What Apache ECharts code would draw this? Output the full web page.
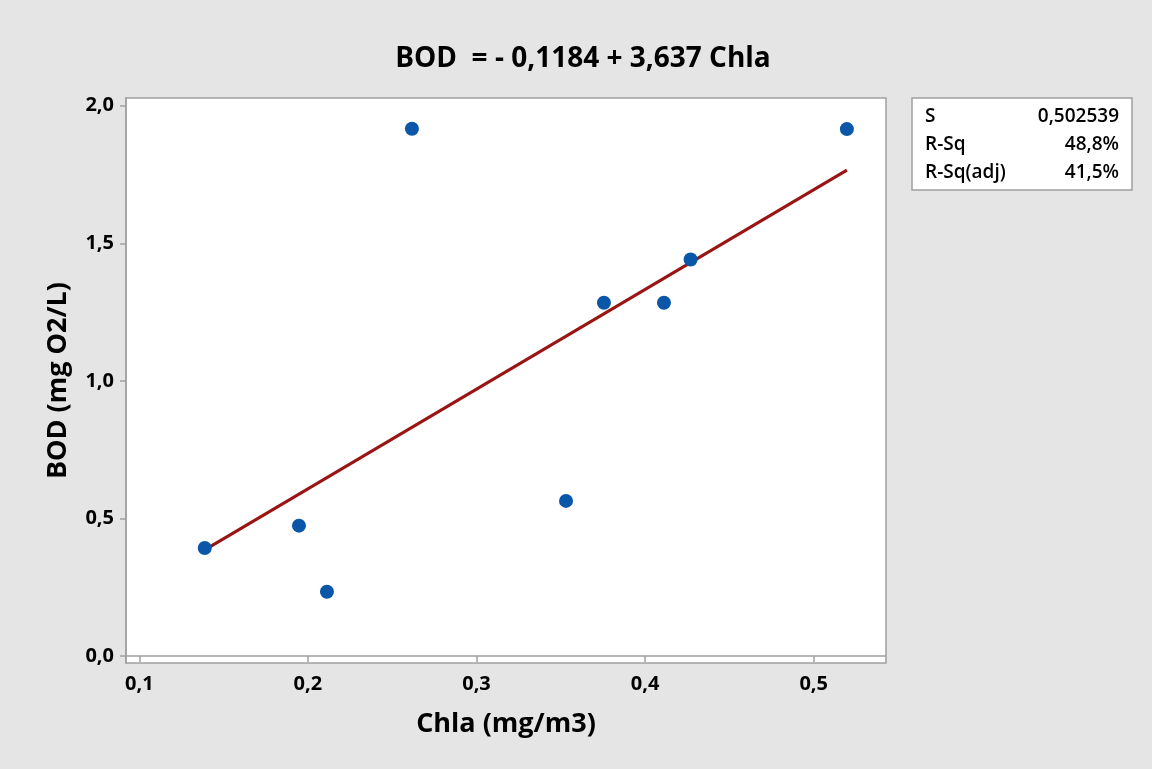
<!DOCTYPE html>
<html>
<head>
<meta charset="utf-8">
<script src="https://cdn.jsdelivr.net/npm/echarts@6/dist/echarts.min.js"></script>
<style>
html,body{margin:0;padding:0;background:#e5e5e5;}
#c{width:1152px;height:769px;}
</style>
</head>
<body>
<div id="c"></div>
<script>
// Data
const chla = [0.1388, 0.1947, 0.2113, 0.2617, 0.3531, 0.3756, 0.4112, 0.4270, 0.5197];
const bod  = [0.393, 0.474, 0.234, 1.916, 0.564, 1.284, 1.284, 1.441, 1.915];
const fitX = [0.1388, 0.5197];
const fitY = [0.386, 1.766];
const xTicks = [0.1, 0.2, 0.3, 0.4, 0.5];
const yTicks = [0.0, 0.5, 1.0, 1.5, 2.0];
const statLabels = ['S', 'R-Sq', 'R-Sq(adj)'];
const statValues = ['0,502539', '48,8%', '41,5%'];
const titleText = 'BOD  = - 0,1184 + 3,637 Chla';

const fmt = v => v.toFixed(1).replace('.', ',');
const FONT = '"Open Sans", "Noto Sans", sans-serif';

const chart = echarts.init(document.getElementById('c'), null, {renderer: 'canvas'});

const graphics = [
  {type: 'rect', shape: {x: 912, y: 98, width: 220, height: 92},
   style: {fill: '#ffffff', stroke: '#a0a0a0', lineWidth: 1.5}}
];
statLabels.forEach((s, i) => {
  graphics.push({type: 'text', x: 925, y: 117 + i * 28,
    style: {text: s, fontFamily: FONT, fontWeight: 600, fontSize: 19, fill: '#000', verticalAlign: 'middle', align: 'left'}});
  graphics.push({type: 'text', x: 1119, y: 117 + i * 28,
    style: {text: statValues[i], fontFamily: FONT, fontWeight: 600, fontSize: 19, fill: '#000', verticalAlign: 'middle', align: 'right'}});
});

chart.setOption({
  backgroundColor: '#e5e5e5',
  animation: false,
  title: {
    text: titleText, left: 578, top: 40, textAlign: 'center',
    textStyle: {fontFamily: FONT, fontWeight: 'bold', fontSize: 28, color: '#000'}
  },
  grid: {left: 126, top: 98, right: 1152 - 886, bottom: 769 - 663, show: true,
    backgroundColor: '#ffffff', borderColor: '#a0a0a0', borderWidth: 1.5},
  xAxis: {
    type: 'value', min: 0.0921, max: 0.5429,
    name: 'Chla (mg/m3)', nameLocation: 'middle', nameGap: 48,
    nameTextStyle: {fontFamily: FONT, fontWeight: 'bold', fontSize: 27, color: '#000'},
    axisLine: {show: true, lineStyle: {color: '#a0a0a0', width: 1.5}},
    axisTick: {show: true, length: 6, customValues: xTicks, lineStyle: {color: '#a0a0a0', width: 1.5}},
    axisLabel: {customValues: xTicks, formatter: fmt, margin: 11,
      fontFamily: FONT, fontWeight: 'bold', fontSize: 20, color: '#000'},
    splitLine: {show: false}
  },
  yAxis: {
    type: 'value', min: -0.025, max: 2.028,
    name: 'BOD (mg O2/L)', nameLocation: 'middle', nameGap: 54,
    nameTextStyle: {fontFamily: FONT, fontWeight: 'bold', fontSize: 27, color: '#000'},
    axisLine: {show: true, lineStyle: {color: '#a0a0a0', width: 1.5}},
    axisTick: {show: true, length: 6, customValues: yTicks, lineStyle: {color: '#a0a0a0', width: 1.5}},
    axisLabel: {customValues: yTicks, formatter: fmt, margin: 12,
      fontFamily: FONT, fontWeight: 'bold', fontSize: 20, color: '#000'},
    splitLine: {show: false}
  },
  series: [
    {
      type: 'line', data: fitX.map((x, i) => [x, fitY[i]]),
      showSymbol: false, symbol: 'none',
      lineStyle: {color: '#9b1414', width: 3}, z: 2
    },
    {
      type: 'scatter', data: chla.map((x, i) => [x, bod[i]]),
      symbol: 'circle', symbolSize: 14,
      itemStyle: {color: '#0a56a8', opacity: 1}, z: 3
    }
  ],
  graphic: graphics
});
</script>
</body>
</html>
